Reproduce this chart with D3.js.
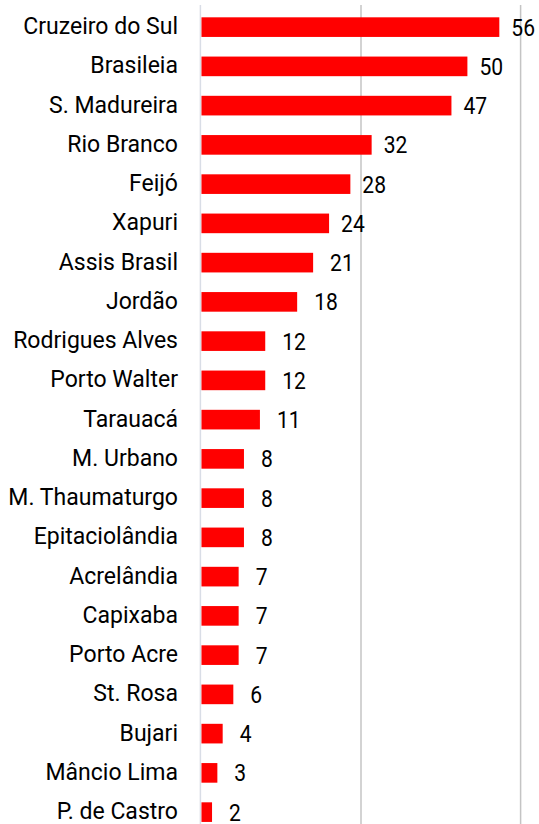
<!DOCTYPE html>
<html lang="pt">
  <head>
    <meta charset="utf-8">
    <title>Municípios</title>
    <script src="https://d3js.org/d3.v7.min.js"></script>
    <style>
      body { margin: 0; background: #fff; }
      text { font-family: "Roboto", "Liberation Sans", sans-serif; fill: #000; }
    </style>
  </head>
  <body>
    <svg id="chart" width="539" height="824"></svg>
    <script>
      var cities = ["Cruzeiro do Sul", "Brasileia", "S. Madureira", "Rio Branco", "Feijó", "Xapuri",
        "Assis Brasil", "Jordão", "Rodrigues Alves", "Porto Walter", "Tarauacá", "M. Urbano",
        "M. Thaumaturgo", "Epitaciolândia", "Acrelândia", "Capixaba", "Porto Acre", "St. Rosa",
        "Bujari", "Mâncio Lima", "P. de Castro"];
      var counts = [56, 50, 47, 32, 28, 24, 21, 18, 12, 12, 11, 8, 8, 8, 7, 7, 7, 6, 4, 3, 2];
      var gridTicks = [0, 30, 60];

      var svg = d3.select("svg#chart");

      var x = d3.scaleLinear().domain([0, 60]).range([201.4, 520.6]);
      var y = d3.scaleBand().domain(cities).range([7.5, 831.75]).paddingInner(0.5).paddingOuter(0.25);

      // gridlines
      svg.selectAll("line.grid").data(gridTicks.slice(1)).enter().append("line")
        .attr("class", "grid")
        .attr("x1", d => x(d)).attr("x2", d => x(d))
        .attr("y1", 5).attr("y2", 824)
        .attr("stroke", "#c4c4c4").attr("stroke-width", 1.5);

      // bars
      svg.selectAll("rect.bar").data(counts).enter().append("rect")
        .attr("class", "bar")
        .attr("x", x(0))
        .attr("y", (d, i) => y(cities[i]))
        .attr("width", d => x(d) - x(0))
        .attr("height", y.bandwidth())
        .attr("fill", "#ff0000");

      // axis line
      svg.append("line")
        .attr("x1", x(0) - 1).attr("x2", x(0) - 1).attr("y1", 5).attr("y2", 824)
        .attr("stroke", "#d9dde6").attr("stroke-width", 1.5);

      // category labels
      svg.selectAll("text.cat").data(cities).enter().append("text")
        .attr("class", "cat")
        .attr("transform", d => "translate(178," + (y(d) + y.bandwidth() / 2 - 1.5) + ") scale(0.94,1)")
        .attr("dy", "0.35em")
        .attr("text-anchor", "end")
        .style("font-size", "24.5px")
        .text(d => d);

      // value labels
      svg.selectAll("text.val").data(counts).enter().append("text")
        .attr("class", "val")
        .attr("transform", (d, i) => "translate(" + (x(d) + (d < 24 ? 17 : 12)) + "," + (y(cities[i]) + y.bandwidth() / 2) + ") scale(0.86,1)")
        .attr("dy", "0.35em")
        .style("font-size", "24.5px")
        .text(d => d);
    </script>
  </body>
</html>
